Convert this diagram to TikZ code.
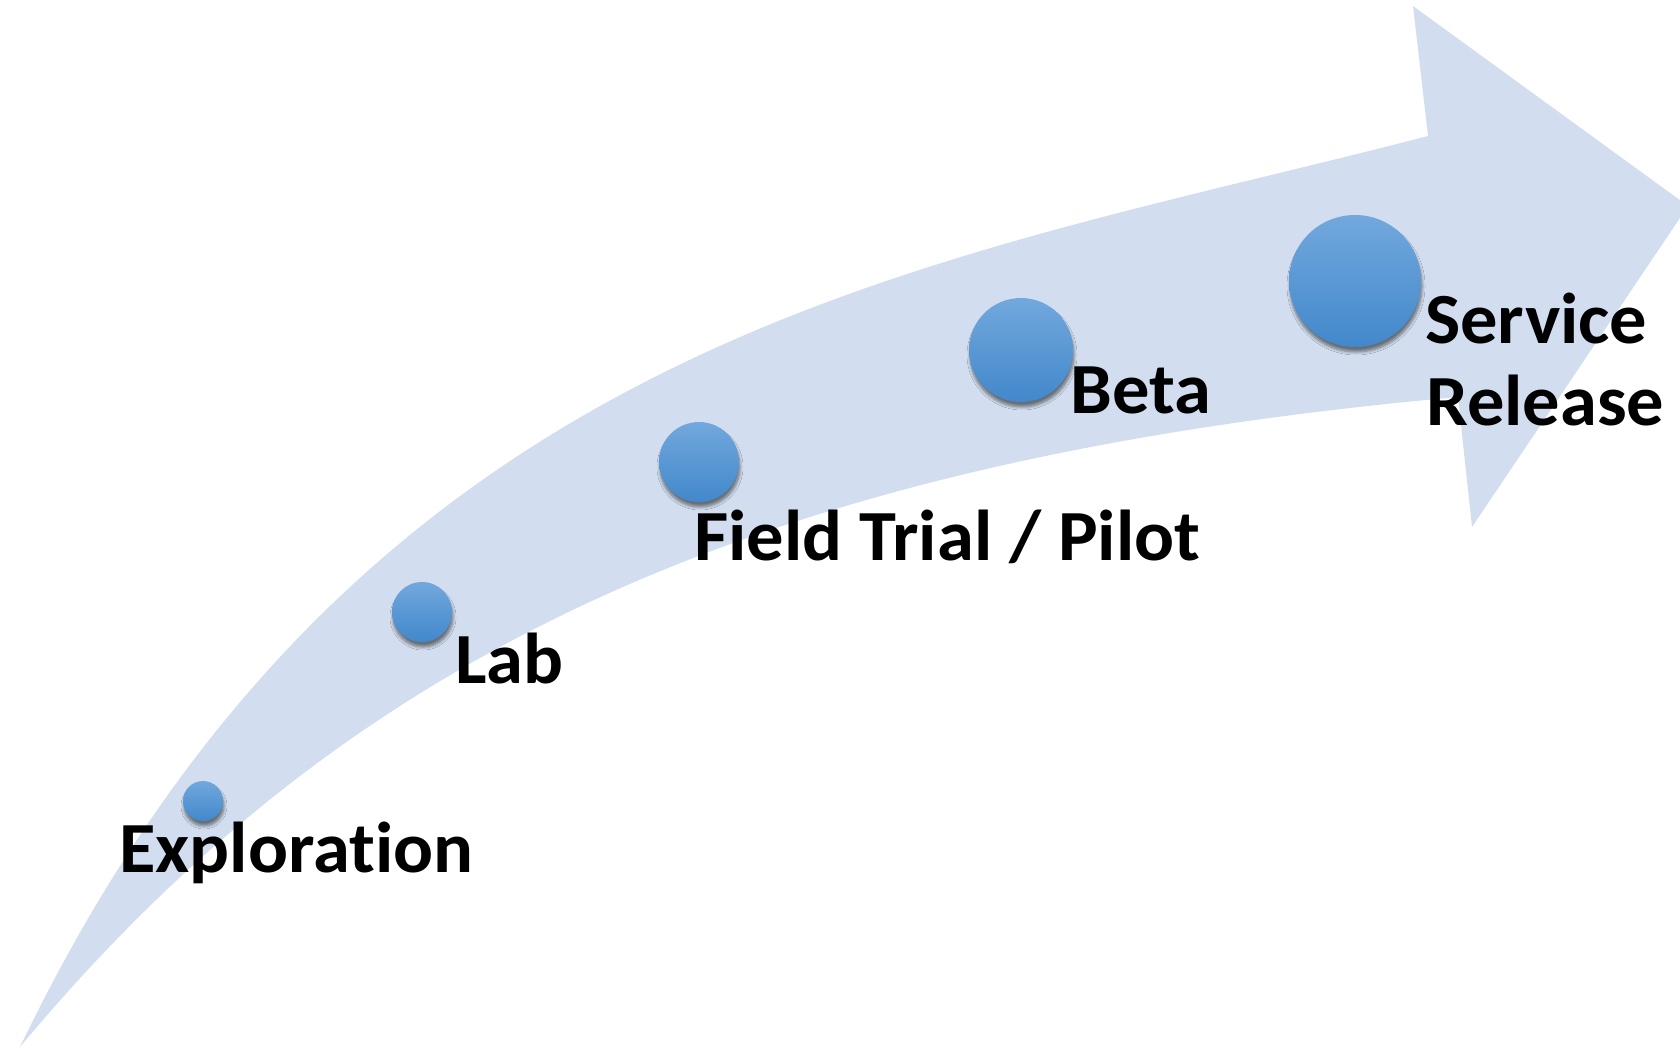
\documentclass[tikz,border=0pt]{standalone}
\usepackage{fontspec}
\setmainfont{Carlito}[Ligatures=NoCommon, FakeStretch=1.035]
\usetikzlibrary{shadows.blur}
\definecolor{arrowfill}{RGB}{210,222,239}
\definecolor{balltop}{RGB}{114,168,221}
\definecolor{ballbot}{RGB}{66,136,203}
\begin{document}
\begin{tikzpicture}[x=1pt,y=-1pt,
  ball/.style={circle, draw=none, inner sep=0pt, top color=balltop, bottom color=ballbot,
    blur shadow={shadow xshift=1pt, shadow yshift=-5pt, shadow blur steps=6, shadow blur radius=3pt, shadow opacity=50}},
  lbl/.style={font=\fontsize{72}{80}\selectfont\bfseries, inner sep=0pt, anchor=base west}]
\useasboundingbox (0,0) rectangle (1680,1048);
\begin{scope}
\clip (0,0) rectangle (1680,1048);
\fill[arrowfill] (20,1047) .. controls (365,330) and (928,266) .. (1428,136)
  -- (1413,6) -- (1688,206) -- (1472,527) -- (1458,397)
  .. controls (758,460) and (350,651) .. (20,1047) -- cycle;
\end{scope}
\node[ball, minimum size=40pt] (c1) at (203,801) {};
\node[ball, minimum size=60pt] (c2) at (422,612) {};
\node[ball, minimum size=80pt] (c3) at (699,462) {};
\node[ball, minimum size=104pt] (c4) at (1021,350) {};
\node[ball, minimum size=132pt] (c5) at (1355,281) {};
\node[lbl] (l1) at (119,872) {Exploration};
\node[lbl] (l2) at (455,683) {Lab};
\node[lbl] (l3) at (694,560) {Field Trial / Pilot};
\node[lbl] (l4) at (1070,413) {Beta};
\node[lbl] (l5a) at (1425,343) {Service};
\node[lbl] (l5b) at (1426,425) {Release};
\end{tikzpicture}
\end{document}
